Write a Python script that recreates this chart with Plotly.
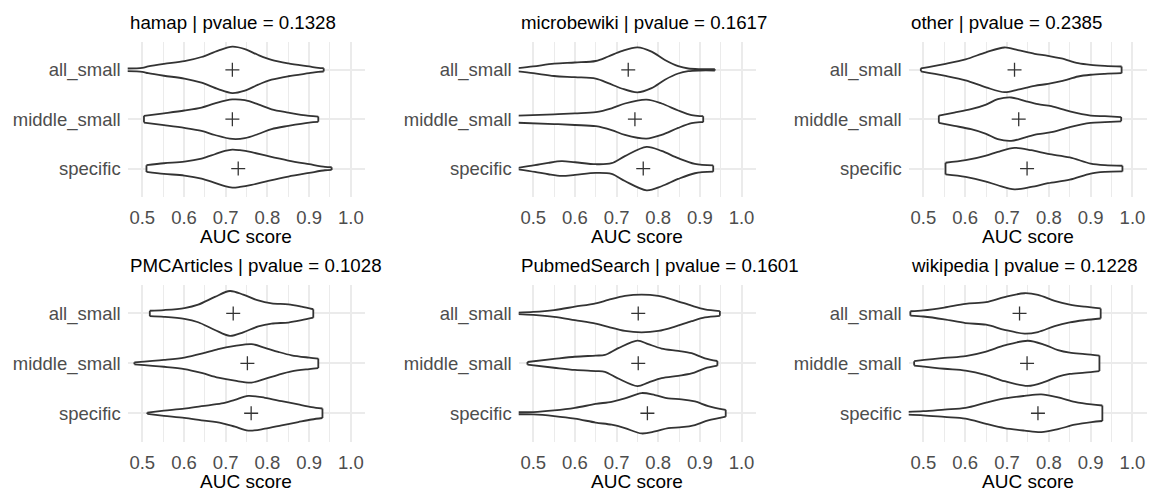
import plotly.graph_objects as go

# ---- data -------------------------------------------------------------
sources = ["hamap", "microbewiki", "other", "PMCArticles", "PubmedSearch", "wikipedia"]
pvalues = [0.1328, 0.1617, 0.2385, 0.1028, 0.1601, 0.1228]
groups = ["all_small", "middle_small", "specific"]

# mean AUC per group (all_small, middle_small, specific)
hamap_mean = [0.716, 0.716, 0.730]
microbewiki_mean = [0.728, 0.744, 0.764]
other_mean = [0.718, 0.728, 0.748]
pmc_mean = [0.718, 0.752, 0.761]
pubmed_mean = [0.752, 0.752, 0.774]
wikipedia_mean = [0.730, 0.748, 0.774]

# violin profiles: AUC positions and scaled density (half-width) per group
hamap_auc = [
    [0.46, 0.5, 0.514, 0.552, 0.601, 0.642, 0.682, 0.716, 0.746, 0.778, 0.810, 0.850, 0.900, 0.922, 0.935],
    [0.504, 0.552, 0.601, 0.642, 0.674, 0.716, 0.746, 0.778, 0.810, 0.850, 0.900, 0.922],
    [0.510, 0.552, 0.601, 0.642, 0.674, 0.698, 0.716, 0.734, 0.762, 0.802, 0.850, 0.900, 0.938, 0.954],
]
hamap_density = [
    [0.027, 0.04, 0.068, 0.12, 0.176, 0.26, 0.39, 0.47, 0.42, 0.30, 0.20, 0.13, 0.068, 0.04, 0.034],
    [0.068, 0.12, 0.176, 0.236, 0.32, 0.40, 0.385, 0.30, 0.20, 0.135, 0.068, 0.054],
    [0.068, 0.108, 0.142, 0.203, 0.29, 0.358, 0.385, 0.372, 0.331, 0.25, 0.162, 0.088, 0.034, 0.027],
]
microbewiki_auc = [
    [0.46, 0.5, 0.550, 0.600, 0.650, 0.680, 0.712, 0.750, 0.784, 0.816, 0.848, 0.872, 0.90, 0.936],
    [0.46, 0.550, 0.60, 0.650, 0.688, 0.72, 0.772, 0.808, 0.848, 0.88, 0.90, 0.908],
    [0.462, 0.504, 0.536, 0.568, 0.60, 0.650, 0.688, 0.72, 0.772, 0.808, 0.848, 0.888, 0.932],
]
microbewiki_density = [
    [0.03, 0.068, 0.125, 0.149, 0.179, 0.27, 0.378, 0.456, 0.37, 0.20, 0.074, 0.027, 0.014, 0.014],
    [0.071, 0.098, 0.118, 0.142, 0.22, 0.318, 0.395, 0.318, 0.176, 0.081, 0.061, 0.061],
    [0.014, 0.068, 0.115, 0.149, 0.128, 0.088, 0.108, 0.253, 0.44, 0.358, 0.21, 0.095, 0.064],
]
other_auc = [
    [0.494, 0.550, 0.601, 0.650, 0.694, 0.726, 0.766, 0.798, 0.830, 0.870, 0.90, 0.934, 0.974],
    [0.537, 0.574, 0.614, 0.650, 0.678, 0.710, 0.742, 0.774, 0.806, 0.850, 0.90, 0.934, 0.973],
    [0.553, 0.601, 0.650, 0.678, 0.718, 0.758, 0.798, 0.850, 0.90, 0.934, 0.976],
]
other_density = [
    [0.030, 0.118, 0.213, 0.355, 0.453, 0.40, 0.324, 0.284, 0.23, 0.135, 0.10, 0.081, 0.068],
    [0.074, 0.135, 0.203, 0.297, 0.405, 0.44, 0.372, 0.304, 0.264, 0.159, 0.074, 0.061, 0.044],
    [0.118, 0.169, 0.264, 0.338, 0.42, 0.372, 0.297, 0.226, 0.101, 0.068, 0.057],
]
pmc_auc = [
    [0.518, 0.552, 0.601, 0.634, 0.674, 0.710, 0.742, 0.778, 0.810, 0.850, 0.882, 0.910],
    [0.481, 0.552, 0.601, 0.642, 0.682, 0.722, 0.762, 0.794, 0.826, 0.858, 0.90, 0.922],
    [0.512, 0.552, 0.601, 0.642, 0.690, 0.722, 0.754, 0.794, 0.834, 0.874, 0.906, 0.932],
]
pmc_density = [
    [0.054, 0.068, 0.108, 0.176, 0.331, 0.45, 0.378, 0.26, 0.203, 0.182, 0.135, 0.084],
    [0.02, 0.068, 0.115, 0.193, 0.287, 0.348, 0.385, 0.31, 0.23, 0.162, 0.115, 0.095],
    [0.014, 0.051, 0.091, 0.142, 0.196, 0.27, 0.348, 0.31, 0.243, 0.176, 0.125, 0.095],
]
pubmed_auc = [
    [0.46, 0.5, 0.550, 0.60, 0.650, 0.68, 0.72, 0.76, 0.80, 0.84, 0.88, 0.912, 0.948],
    [0.486, 0.55, 0.60, 0.650, 0.672, 0.704, 0.75, 0.776, 0.808, 0.848, 0.88, 0.912, 0.942],
    [0.46, 0.5, 0.55, 0.60, 0.650, 0.688, 0.72, 0.76, 0.792, 0.824, 0.856, 0.888, 0.92, 0.962],
]
pubmed_density = [
    [0.014, 0.03, 0.068, 0.135, 0.203, 0.27, 0.351, 0.378, 0.351, 0.264, 0.155, 0.081, 0.047],
    [0.027, 0.088, 0.132, 0.155, 0.169, 0.304, 0.456, 0.385, 0.297, 0.25, 0.203, 0.101, 0.047],
    [0.02, 0.024, 0.057, 0.108, 0.186, 0.23, 0.297, 0.405, 0.365, 0.297, 0.28, 0.236, 0.145, 0.068],
]
wikipedia_auc = [
    [0.469, 0.5, 0.55, 0.601, 0.650, 0.694, 0.742, 0.774, 0.814, 0.850, 0.886, 0.924],
    [0.478, 0.55, 0.601, 0.650, 0.694, 0.75, 0.790, 0.822, 0.850, 0.886, 0.921],
    [0.46, 0.5, 0.55, 0.601, 0.650, 0.694, 0.742, 0.782, 0.822, 0.862, 0.902, 0.928],
]
wikipedia_density = [
    [0.044, 0.061, 0.118, 0.193, 0.226, 0.328, 0.405, 0.372, 0.253, 0.179, 0.135, 0.101],
    [0.044, 0.108, 0.145, 0.236, 0.358, 0.453, 0.372, 0.264, 0.213, 0.186, 0.155],
    [0.027, 0.041, 0.074, 0.108, 0.213, 0.297, 0.348, 0.378, 0.318, 0.23, 0.176, 0.155],
]

x_ticks = [0.5, 0.6, 0.7, 0.8, 0.9, 1.0]

panel_auc = [hamap_auc, microbewiki_auc, other_auc, pmc_auc, pubmed_auc, wikipedia_auc]
panel_density = [hamap_density, microbewiki_density, other_density, pmc_density,
                 pubmed_density, wikipedia_density]
panel_mean = [hamap_mean, microbewiki_mean, other_mean, pmc_mean, pubmed_mean, wikipedia_mean]

# ---- layout geometry (pixels) -------------------------------------------
W, H = 1154, 493
col_px = [(127.7, 365.0), (518.7, 755.7), (908.7, 1146.7)]
row_px = [(41.7, 196.7), (285.0, 441.7)]

FONT = "Liberation Sans"
OUTLINE = "#333333"
GRID = "#EBEBEB"

fig = go.Figure()
layout = dict(
    width=W, height=H,
    margin=dict(l=0, r=0, t=0, b=0),
    paper_bgcolor="white", plot_bgcolor="white",
    showlegend=False,
    font=dict(family=FONT),
    annotations=[],
)

for i, name in enumerate(sources):
    r, c = divmod(i, 3)
    ax = "" if i == 0 else str(i + 1)
    xref, yref = "x" + ax, "y" + ax
    x0, x1 = col_px[c]
    y0, y1 = row_px[r]

    layout["xaxis" + ax] = dict(
        domain=[x0 / W, x1 / W], anchor=yref,
        range=[0.465, 1.034],
        tickvals=x_ticks, ticktext=[f"{v:.1f}" for v in x_ticks],
        tickfont=dict(size=18.5, color="#4D4D4D", family=FONT),
        showgrid=True, gridcolor=GRID, gridwidth=1.6,
        minor=dict(tick0=0.55, dtick=0.1, showgrid=True, gridcolor=GRID, gridwidth=0.9),
        zeroline=False, showline=False, ticks="",
        ticklabelstandoff=8,
    )
    layout["yaxis" + ax] = dict(
        domain=[1 - y1 / H, 1 - y0 / H], anchor=xref,
        range=[2.57, -0.57],
        tickvals=[0, 1, 2], ticktext=groups,
        tickfont=dict(size=18.5, color="#4D4D4D", family=FONT),
        showgrid=True, gridcolor=GRID, gridwidth=1.6,
        zeroline=False, showline=False, ticks="",
        ticklabelstandoff=6,
    )

    # panel title
    layout["annotations"].append(dict(
        text=f"{name} | pvalue = {pvalues[i]:.4f}",
        xref="paper", yref="paper", x=x0 / W, y=1 - (y0 - 19.5) / H,
        xanchor="left", yanchor="middle", showarrow=False,
        font=dict(size=18.7, color="black", family=FONT),
    ))
    # x-axis title
    layout["annotations"].append(dict(
        text="AUC score",
        xref="paper", yref="paper", x=(x0 + x1) / 2 / W, y=1 - (y1 + 40) / H,
        xanchor="center", yanchor="middle", showarrow=False,
        font=dict(size=19, color="black", family=FONT),
    ))

    for g in range(3):
        auc = panel_auc[i][g]
        dens = panel_density[i][g]
        top = [g - d for d in dens]
        bot = [g + d for d in dens]
        # white body of the violin
        fig.add_trace(go.Scatter(
            x=auc + auc[::-1] + [auc[0]], y=top + bot[::-1] + [top[0]],
            xaxis=xref, yaxis=yref, mode="lines", fill="toself",
            fillcolor="white", line=dict(width=0), hoverinfo="skip",
        ))
        # outline: smooth top/bottom edges, flat end caps
        fig.add_trace(go.Scatter(
            x=auc + [None] + auc + [None] + [auc[0], auc[0]] + [None] + [auc[-1], auc[-1]],
            y=top + [None] + bot + [None] + [top[0], bot[0]] + [None] + [top[-1], bot[-1]],
            xaxis=xref, yaxis=yref, mode="lines", connectgaps=False,
            line=dict(color=OUTLINE, width=1.8, shape="spline", smoothing=0.9),
            hoverinfo="skip",
        ))
    # group means
    fig.add_trace(go.Scatter(
        x=panel_mean[i], y=[0, 1, 2], xaxis=xref, yaxis=yref, mode="markers",
        marker=dict(symbol="cross-thin", size=10, line=dict(color=OUTLINE, width=1.3)),
    ))

fig.update_layout(**layout)
fig.write_html("out.html")
